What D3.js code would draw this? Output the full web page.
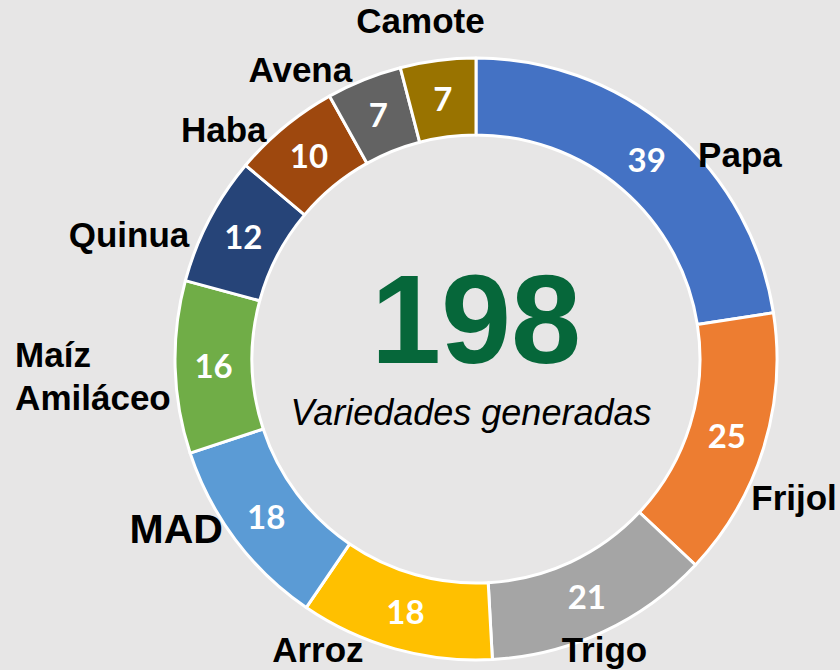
<!doctype html>
<html lang="es">
<head>
    <meta charset="utf-8"/>
    <title>Variedades generadas</title>
    <style>
        html, body { margin: 0; padding: 0; background: #E7E6E6; }
        svg { display: block; }
    </style>
</head>
<body>
    <svg></svg>
    <script src="https://d3js.org/d3.v7.min.js"></script>
    <script>
        // data, clockwise from 12 o'clock
        const categories = ["Papa", "Frijol", "Trigo", "Arroz", "MAD", "Maíz\nAmiláceo", "Quinua", "Haba", "Avena", "Camote"];
        const values = [39, 25, 21, 18, 18, 16, 12, 10, 7, 7];
        const colors = ["#4472C4", "#ED7D31", "#A5A5A5", "#FFC000", "#5B9BD5", "#70AD47", "#264478", "#9E480E", "#636363", "#997300"];
        const centerValue = "198";
        const centerText = "Variedades generadas";

        // label nudges (the original labels were moved by hand)
        const labelNudge = [[46, 50], [-2, 40], [-13, -13], [-68, -32], [-32, -29], [-126, 8], [-50, 31], [-39, 29], [-51, 22], [-13, -6]];
        const labelAnchor = ["middle", "middle", "middle", "middle", "middle", "start", "middle", "middle", "middle", "middle"];
        const labelSize = [35, 35, 35, 35, 41, 35, 35, 35, 35, 35];

        const width = 840, height = 670;
        const cx = 476, cy = 359;
        const outerR = 301, innerR = 224, labelR = 335;

        const svg = d3.select("svg")
            .attr("width", width)
            .attr("height", height)
            .attr("viewBox", [0, 0, width, height]);

        svg.append("rect")
            .attr("width", width)
            .attr("height", height)
            .attr("fill", "#E7E6E6");

        const pie = d3.pie().sort(null).value(d => d);
        const arcs = pie(values);

        const arc = d3.arc().innerRadius(innerR).outerRadius(outerR);
        const labelArc = d3.arc().innerRadius(labelR).outerRadius(labelR);

        const g = svg.append("g")
            .attr("transform", `translate(${cx},${cy})`);

        g.append("g")
            .selectAll("path")
            .data(arcs)
            .join("path")
                .attr("d", arc)
                .attr("fill", (d, i) => colors[i])
                .attr("stroke", "#fff")
                .attr("stroke-width", 3)
                .attr("stroke-linejoin", "round");

        // values inside the ring
        g.append("g")
            .attr("font-family", "Lato, 'Open Sans', sans-serif")
            .attr("font-weight", "bold")
            .attr("font-size", 33)
            .attr("fill", "#fff")
            .attr("text-anchor", "middle")
            .selectAll("text")
            .data(arcs)
            .join("text")
                .attr("transform", d => `translate(${arc.centroid(d)})`)
                .attr("dy", "0.36em")
                .text(d => d.data);

        // category labels
        const lab = g.append("g")
            .attr("font-family", "'Liberation Sans', Arial, sans-serif")
            .attr("font-weight", "bold")
            .attr("fill", "#000")
            .selectAll("text")
            .data(arcs)
            .join("text")
                .attr("font-size", (d, i) => labelSize[i])
                .attr("text-anchor", (d, i) => labelAnchor[i])
                .attr("transform", (d, i) => {
                    const [x, y] = labelArc.centroid(d);
                    const lines = categories[i].split("\n").length;
                    const yb = y + 12 - (lines - 1) * 43 / 2;
                    return `translate(${x + labelNudge[i][0]},${yb + labelNudge[i][1]})`;
                });

        lab.selectAll("tspan")
            .data((d, i) => categories[i].split("\n"))
            .join("tspan")
                .attr("x", 0)
                .attr("dy", (d, j) => j === 0 ? 0 : 43)
                .text(d => d);

        // center text
        g.append("text")
            .attr("text-anchor", "middle")
            .attr("font-family", "'Liberation Sans', Arial, sans-serif")
            .attr("font-weight", "bold")
            .attr("font-size", 126)
            .attr("fill", "#06673A")
            .attr("x", 0)
            .attr("y", 4)
            .text(centerValue);

        g.append("text")
            .attr("text-anchor", "middle")
            .attr("font-family", "'Liberation Sans', Arial, sans-serif")
            .attr("font-style", "italic")
            .attr("font-size", 36)
            .attr("fill", "#000")
            .attr("x", -5)
            .attr("y", 66)
            .text(centerText);
    </script>
</body>
</html>
